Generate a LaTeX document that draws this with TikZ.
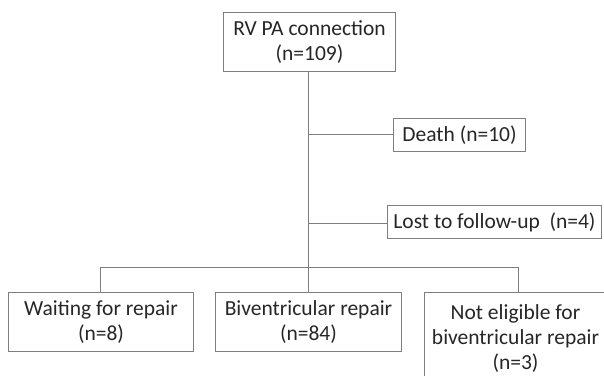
\documentclass[tikz,border=0pt]{standalone}
\usepackage{fontspec}
\setmainfont{Carlito}
\begin{document}
\begin{tikzpicture}[x=1pt,y=-1pt,
  line width=1pt,
  box/.style={draw=linegray, inner sep=0pt, align=center, text=textcol,
    font=\fontsize{21.5}{25}\selectfont, anchor=north west},
  conn/.style={draw=linegray}]
\definecolor{linegray}{HTML}{7F7F7F}
\definecolor{textcol}{HTML}{262626}
\useasboundingbox (0,0) rectangle (604,375);
\begin{scope}
\clip (0,0) rectangle (604,375);
\node[box, minimum width=172pt, minimum height=59pt] (top) at (223,12) {RV PA connection\\(n=109)};
\node[box, minimum width=132pt, minimum height=33pt] (death) at (393,118) {Death (n=10)};
\node[box, minimum width=214pt, minimum height=33pt] (lost) at (387,205) {Lost to follow-up\ \ (n=4)};
\node[box, minimum width=185pt, minimum height=59pt] (wait) at (8,292) {Waiting for repair\\(n=8)};
\node[box, minimum width=186pt, minimum height=59pt] (biv) at (215,292) {Biventricular repair\\(n=84)};
\node[box, minimum width=182pt, minimum height=93pt] (ne) at (424,292) {Not eligible for\\biventricular repair\\(n=3)};
\end{scope}
\coordinate (j1) at (308,134);
\coordinate (j2) at (308,223);
\coordinate (jb) at (308,267);
\coordinate (jl) at (100,267);
\coordinate (jr) at (518,267);
\draw[conn] (top.south -| jb) -- (jb);
\draw[conn] (j1) -- (death.west |- j1);
\draw[conn] (j2) -- (lost.west |- j2);
\draw[conn] (jl) -- (jr);
\draw[conn] (jl) -- (wait.north -| jl);
\draw[conn] (jb) -- (biv.north -| jb);
\draw[conn] (jr) -- (ne.north -| jr);
\end{tikzpicture}
\end{document}
